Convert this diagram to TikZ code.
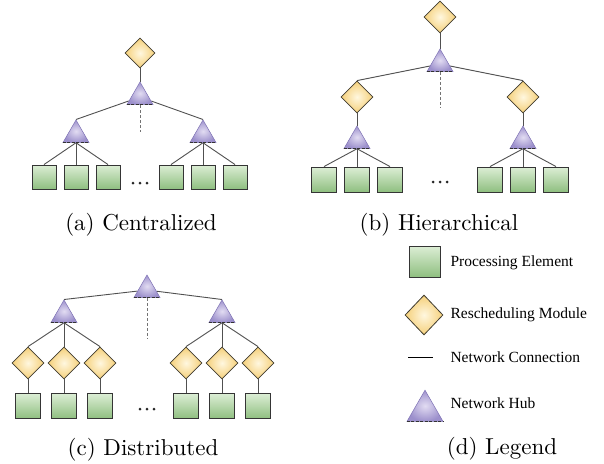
\documentclass[tikz,border=0pt]{standalone}
\usepackage{fontspec}
\newfontfamily\legfont{Liberation Serif}
\newfontfamily\captfont{lmroman10-regular.otf}
\usetikzlibrary{shapes.geometric}
\pgfdeclarelayer{bg}
\pgfsetlayers{bg,main}
\definecolor{peTop}{HTML}{DCEED5}
\definecolor{peBot}{HTML}{8FBF80}
\definecolor{peEdge}{HTML}{353535}
\definecolor{rmIn}{HTML}{FFF7DF}
\definecolor{rmOut}{HTML}{F5D07A}
\definecolor{rmEdge}{HTML}{403C30}
\definecolor{hubIn}{HTML}{E2DCF2}
\definecolor{hubOut}{HTML}{9C90CC}
\definecolor{hubEdge}{HTML}{7E72B4}
\definecolor{conn}{HTML}{505050}
\tikzset{
  pebox/.style={rectangle, minimum size=#1, inner sep=0pt, draw=peEdge, line width=0.9pt,
    top color=peTop, bottom color=peBot},
  pebox/.default=24pt,
  rmbox/.style={diamond, minimum width=#1, minimum height=#1, inner sep=0pt, draw=rmEdge, line width=0.8pt,
    shading=radial, inner color=rmIn, outer color=rmOut},
  rmbox/.default=31pt,
  hubbox/.style={regular polygon, regular polygon sides=3, minimum size=#1, inner sep=0pt,
    draw=hubEdge, line width=0.5pt, shading=radial, inner color=hubIn, outer color=hubOut},
  hubbox/.default=30pt,
  hubbase/.style={draw=black!80, line width=0.8pt, dash pattern=on 3pt off 1.5pt},
  link/.style={draw=conn, line width=0.9pt},
  dlink/.style={draw=conn!80, line width=0.9pt, dash pattern=on 3pt off 2pt},
  capt/.style={anchor=base, font=\captfont\fontsize{23}{27}\selectfont},
  legtext/.style={anchor=west, font=\legfont\fontsize{15.5}{18}\selectfont},
  dotmark/.style={circle, fill=black!85, inner sep=0pt, minimum size=3pt}
}
\begin{document}
\begin{tikzpicture}[x=1pt,y=-1pt]
\useasboundingbox (0,0) rectangle (604,463);

% ---------- (a) Centralized ----------
\node[rmbox=30pt] (aR) at (140,53) {};
\node[hubbox] (aH) at (140,97) {};
\coordinate (aD) at (140,132);
\node[hubbox] (aH1) at (76,135) {};
\node[hubbox] (aH2) at (203,135) {};
\foreach \i/\x in {1/44,2/76,3/108,4/171,5/203,6/235}{
  \node[pebox] (aP\i) at (\x,177) {};
}
\foreach \k/\x in {1/133,2/140,3/147}{ \node[dotmark] (aDot\k) at (\x,183) {}; }
\node[capt] (aCap) at (141,230) {(a) Centralized};

% ---------- (b) Hierarchical ----------
\node[rmbox=32pt] (bR) at (440,17) {};
\node[hubbox] (bH) at (440,64) {};
\coordinate (bD) at (440,108);
\node[rmbox=32pt] (bR1) at (357,97) {};
\node[rmbox=32pt] (bR2) at (523,97) {};
\node[hubbox] (bH1) at (357,141) {};
\node[hubbox] (bH2) at (523,141) {};
\foreach \i/\x in {1/324,2/357,3/390,4/490,5/523,6/556}{
  \node[pebox=25pt] (bP\i) at (\x,179.5) {};
}
\foreach \k/\x in {1/433,2/440,3/447}{ \node[dotmark] (bDot\k) at (\x,182) {}; }
\node[capt] (bCap) at (439,230) {(b) Hierarchical};

% ---------- (c) Distributed ----------
\node[hubbox] (cH) at (147,290) {};
\coordinate (cD) at (147,338);
\node[hubbox] (cH1) at (64,315) {};
\node[hubbox] (cH2) at (222,315) {};
\foreach \i/\x in {1/28,2/64,3/100,4/186,5/222,6/258}{
  \node[rmbox=32pt] (cR\i) at (\x,363) {};
  \node[pebox=25pt] (cP\i) at (\x,406) {};
}
\foreach \k/\x in {1/140,2/147,3/154}{ \node[dotmark] (cDot\k) at (\x,409) {}; }
\node[capt] (cCap) at (143,455) {(c) Distributed};

% ---------- (d) Legend ----------
\node[pebox=31pt] (lP) at (424.5,261.5) {};
\node[diamond, minimum width=38pt, minimum height=40pt, inner sep=0pt, draw=rmEdge, line width=0.8pt,
  shading=radial, inner color=rmIn, outer color=rmOut] (lR) at (424,315) {};
\coordinate (lL1) at (408,357);
\coordinate (lL2) at (433,357);
\node[hubbox=41.6pt] (lH) at (425,411) {};
\node[legtext] (tP) at (447,263) {Processing Element};
\node[legtext] (tR) at (447,315) {Rescheduling Module};
\node[legtext] (tL) at (447,357) {Network Connection};
\node[legtext] (tH) at (447,403) {Network Hub};
\node[capt] (dCap) at (502,454) {(d) Legend};

% dashed hub bases
\foreach \h in {aH,aH1,aH2,bH,bH1,bH2,cH,cH1,cH2,lH}{
  \draw[hubbase] (\h.corner 2) -- (\h.corner 3);
}

% ---------- connectors ----------
\begin{pgfonlayer}{bg}
  % (a)
  \draw[link] (aR.south) -- (aH.corner 1);
  \draw[dlink] (aH.south) -- (aD);
  \draw[link] (aH1.corner 1) -- (aH);
  \draw[link] (aH2.corner 1) -- (aH);
  \foreach \i in {1,2,3}{ \draw[link] (aH1.south) -- (aP\i.north); }
  \foreach \i in {4,5,6}{ \draw[link] (aH2.south) -- (aP\i.north); }
  % (b)
  \draw[link] (bR.south) -- (bH.corner 1);
  \draw[dlink] (bH.south) -- (bD);
  \draw[link] (bR1.north) -- (bH);
  \draw[link] (bR2.north) -- (bH);
  \draw[link] (bR1.south) -- (bH1.corner 1);
  \draw[link] (bR2.south) -- (bH2.corner 1);
  \foreach \i in {1,2,3}{ \draw[link] (bH1.south) -- (bP\i.north); }
  \foreach \i in {4,5,6}{ \draw[link] (bH2.south) -- (bP\i.north); }
  % (c)
  \draw[dlink] (cH.south) -- (cD);
  \draw[link] (cH1.corner 1) -- (cH);
  \draw[link] (cH2.corner 1) -- (cH);
  \foreach \i in {1,2,3}{ \draw[link] (cH1.south) -- (cR\i.north); }
  \foreach \i in {4,5,6}{ \draw[link] (cH2.south) -- (cR\i.north); }
  \foreach \i in {1,...,6}{ \draw[link] (cR\i.south) -- (cP\i.north); }
  % legend line
  \draw[link, draw=black] (lL1) -- (lL2);
\end{pgfonlayer}
\end{tikzpicture}
\end{document}
